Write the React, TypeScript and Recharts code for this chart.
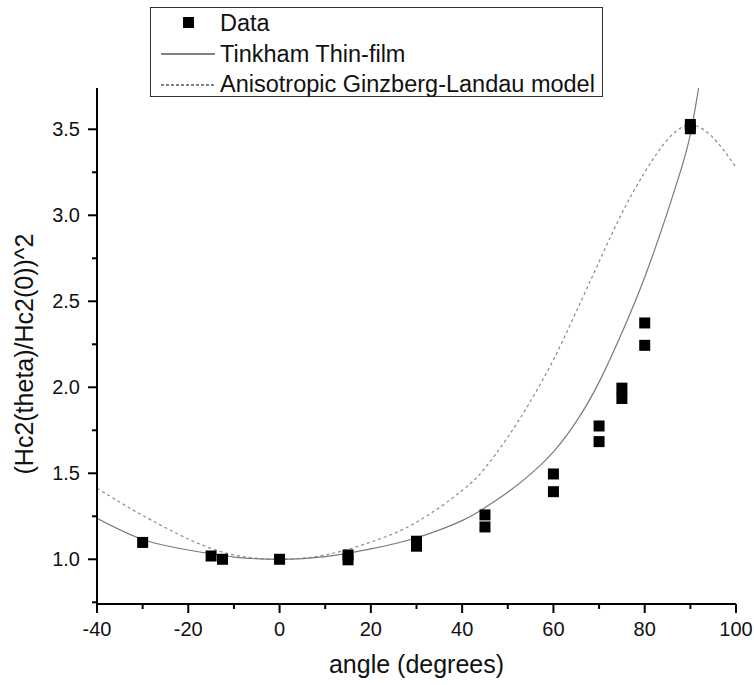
import React from 'react';
import { ComposedChart, Line, Scatter, XAxis, YAxis } from 'recharts';

// measured points (angle in degrees, normalised Hc2 squared)
const dataAngles = [-30, -15, -12.5, 0, 15, 15, 30, 30, 45, 45, 60, 60, 70, 70, 75, 75, 80, 80, 90, 90];
const dataValues = [1.098, 1.019, 1.0, 1.0, 0.997, 1.025, 1.076, 1.105, 1.188, 1.258, 1.393, 1.496, 1.684, 1.775, 1.935, 1.995, 2.244, 2.374, 3.503, 3.528];

// Tinkham thin-film curve
const tinkhamAngles = [-40, -30, -20, -10, 0, 10, 20, 30, 40, 45, 50, 55, 60, 65, 70, 75, 80, 85, 88, 90, 92];
const tinkhamValues = [1.238, 1.115, 1.054, 1.013, 1.0, 1.015, 1.06, 1.125, 1.225, 1.3, 1.39, 1.495, 1.625, 1.8, 2.03, 2.317, 2.64, 3.02, 3.27, 3.47, 3.77];

// anisotropic GL curve
const glAngles = [-40, -35, -30, -20, -10, 0, 10, 20, 30, 40, 45, 50, 55, 60, 65, 70, 75, 80, 85, 90, 95, 100];
const glValues = [1.413, 1.332, 1.255, 1.118, 1.025, 1.0, 1.025, 1.1, 1.215, 1.4, 1.53, 1.71, 1.92, 2.16, 2.44, 2.73, 3.012, 3.25, 3.44, 3.525, 3.45, 3.28];

const xTicks = [-40, -30, -20, -10, 0, 10, 20, 30, 40, 50, 60, 70, 80, 90, 100];
const yTicks = [0.75, 1.0, 1.25, 1.5, 1.75, 2.0, 2.25, 2.5, 2.75, 3.0, 3.25, 3.5];

const legendNames = ['Data', 'Tinkham Thin-film', 'Anisotropic Ginzberg-Landau model'];

const points = dataAngles.map((x, i) => ({ x, y: dataValues[i] }));
const tinkham = tinkhamAngles.map((x, i) => ({ x, y: tinkhamValues[i] }));
const gl = glAngles.map((x, i) => ({ x, y: glValues[i] }));

const FONT = '"Liberation Sans", Arial, sans-serif';

const XTick = (props: any) => {
  const { x, y, payload } = props;
  const major = payload.value % 20 === 0;
  return (
    <g>
      <line x1={x} y1={y} x2={x} y2={y + (major ? 9 : 5)} stroke="#000" strokeWidth={2} />
      {major && (
        <text x={x} y={y + 32} textAnchor="middle" fontSize={20} fontFamily={FONT} fill="#111">
          {payload.value}
        </text>
      )}
    </g>
  );
};

const YTick = (props: any) => {
  const { x, y, payload } = props;
  const major = Math.abs((payload.value * 2) % 1) < 1e-6;
  return (
    <g>
      <line x1={x} y1={y} x2={x - (major ? 9 : 5)} y2={y} stroke="#000" strokeWidth={2} />
      {major && (
        <text x={x - 17} y={y + 7} textAnchor="end" fontSize={20} fontFamily={FONT} fill="#111">
          {payload.value.toFixed(1)}
        </text>
      )}
    </g>
  );
};

const Square = (props: any) => (
  <rect x={props.cx - 5.5} y={props.cy - 5.5} width={11} height={11} fill="#000" />
);

export default function App() {
  return (
    <div style={{ position: 'absolute', left: 0, top: 0, width: 754, height: 685, background: '#fff' }}>
      <ComposedChart width={754} height={685} margin={{ top: 88, right: 18, bottom: 0, left: 0 }}>
        <XAxis
          type="number"
          dataKey="x"
          domain={[-40, 100]}
          ticks={xTicks}
          allowDataOverflow
          axisLine={{ stroke: '#000', strokeWidth: 2 }}
          tickLine={false}
          tickSize={0}
          tickMargin={0}
          tick={<XTick />}
          height={81}
          interval={0}
          label={(p: any) => {
            const vb = p.viewBox || {};
            return (
              <text x={vb.x + vb.width / 2} y={673} textAnchor="middle" fontSize={25} fontFamily={FONT} fill="#111">
                angle (degrees)
              </text>
            );
          }}
        />
        <YAxis
          type="number"
          dataKey="y"
          domain={[0.74, 3.74]}
          ticks={yTicks}
          allowDataOverflow
          axisLine={{ stroke: '#000', strokeWidth: 2 }}
          tickLine={false}
          tickSize={0}
          tickMargin={0}
          tick={<YTick />}
          width={97}
          interval={0}
          label={() => (
            <text x={33} y={354} transform="rotate(-90 33 354)" textAnchor="middle" fontSize={25} fontFamily={FONT} fill="#111">
              (Hc2(theta)/Hc2(0))^2
            </text>
          )}
        />
        <Line data={gl} dataKey="y" type="natural" stroke="#8a8a8a" strokeWidth={1.2} strokeDasharray="3 3" dot={false} isAnimationActive={false} />
        <Line data={tinkham} dataKey="y" type="natural" stroke="#7a7a7a" strokeWidth={1.2} dot={false} isAnimationActive={false} />
        <Scatter data={points} dataKey="y" shape={<Square />} isAnimationActive={false} />
      </ComposedChart>
      <div
        style={{
          position: 'absolute',
          left: 150,
          top: 7,
          width: 451,
          height: 88,
          border: '1px solid #333',
        }}
      >
        <svg width={451} height={88} style={{ position: 'absolute', left: 0, top: 0, overflow: 'visible' }}>
          <rect x={32} y={9} width={11} height={11} fill="#000" />
          <line x1={10} y1={46} x2={64} y2={46} stroke="#000" strokeWidth={1} />
          <line x1={10} y1={77} x2={64} y2={77} stroke="#000" strokeWidth={1} strokeDasharray="3 2" />
          {legendNames.map((n, i) => (
            <text key={n} x={69} y={23 + i * 30.5} fontSize={23.5} fontFamily={FONT} fill="#111">
              {n}
            </text>
          ))}
        </svg>
      </div>
    </div>
  );
}
